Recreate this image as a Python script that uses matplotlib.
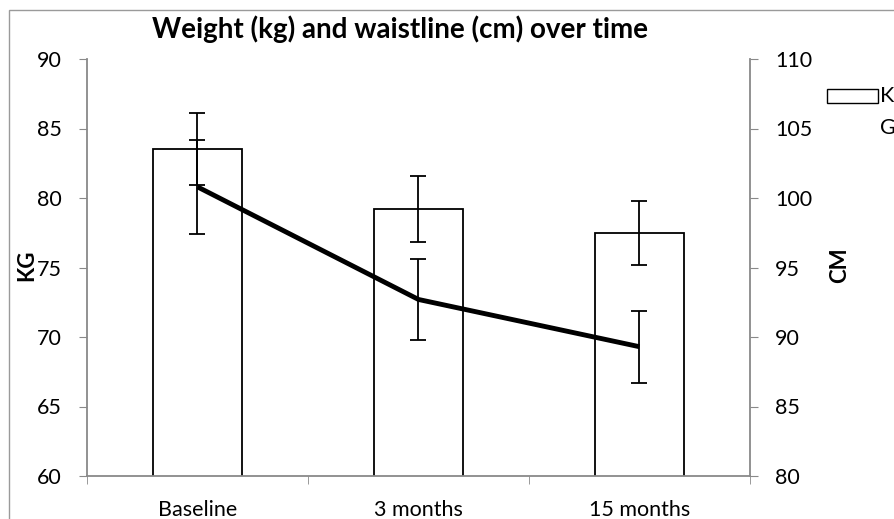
import matplotlib
matplotlib.use("Agg")
import matplotlib.pyplot as plt
from matplotlib.patches import Rectangle
import numpy as np

plt.rcParams['font.family'] = ['Lato', 'DejaVu Sans']

categories = ["Baseline", "3 months", "15 months"]
kg_values = [83.5, 79.2, 77.5]
kg_errors = [2.6, 2.4, 2.3]
cm_values = [100.8, 92.7, 89.3]
cm_errors = [3.4, 2.9, 2.6]
left_ticks = [60, 65, 70, 75, 80, 85, 90]
right_ticks = [80, 85, 90, 95, 100, 105, 110]

W, H = 895, 519
fs = 15.5
fig = plt.figure(figsize=(W / 100, H / 100), dpi=100)
ax_l, ax_r, ax_b, ax_t = 87, 750, 476, 59
ax = fig.add_axes([ax_l / W, 1 - ax_b / H, (ax_r - ax_l) / W, (ax_b - ax_t) / H])

gray = "#898989"
x = np.arange(len(categories))
ax.bar(x, kg_values, width=0.4, color="white", edgecolor="black", linewidth=1.3, zorder=2)
ax.errorbar(x, kg_values, yerr=kg_errors, fmt="none", ecolor="black", elinewidth=1.3,
            capsize=6, capthick=1.3, zorder=3)
ax.set_xlim(-0.5, 2.5)
ax.set_ylim(60, 90)
ax.set_yticks(left_ticks)
ax.set_xticks(x)
ax.set_xticklabels(categories)
ax.set_xticks([-0.5, 0.5, 1.5, 2.5], minor=True)
ax.tick_params(axis="x", which="major", length=0, pad=17, labelsize=fs)
ax.tick_params(axis="x", which="minor", length=6, color=gray, direction="out")
ax.tick_params(axis="y", length=6, color=gray, pad=12, labelsize=fs)
for s in ["top", "right"]:
    ax.spines[s].set_visible(False)
for s in ["left", "bottom"]:
    ax.spines[s].set_color(gray)
    ax.spines[s].set_linewidth(1.3)

ax2 = ax.twinx()
ax2.plot(x, cm_values, color="black", linewidth=3.5, zorder=4, solid_capstyle="butt")
ax2.errorbar(x, cm_values, yerr=cm_errors, fmt="none", ecolor="black", elinewidth=1.3,
             capsize=6, capthick=1.3, zorder=3)
ax2.set_ylim(80, 110)
ax2.set_yticks(right_ticks)
ax2.tick_params(axis="y", length=6, color=gray, pad=12, labelsize=fs)
for s in ["top", "left", "bottom"]:
    ax2.spines[s].set_visible(False)
ax2.spines["right"].set_color(gray)
ax2.spines["right"].set_linewidth(1.3)

fig.text(27 / W, 1 - 265 / H, "KG", rotation=90, fontsize=16, fontweight="bold",
         ha="center", va="center")
fig.text(840 / W, 1 - 265 / H, "CM", rotation=90, fontsize=16, fontweight="bold",
         ha="center", va="center")
fig.text(400 / W, 1 - 29 / H, "Weight (kg) and waistline (cm) over time", fontsize=20,
         fontweight="bold", ha="center", va="center")

# legend (cut off at right edge)
fig.patches.append(Rectangle((827 / W, 1 - 103 / H), 51 / W, 14 / H, transform=fig.transFigure,
                             facecolor="white", edgecolor="black", linewidth=1.0))
fig.text(880 / W, 1 - 96 / H, "K", fontsize=fs, ha="left", va="center")
fig.text(880 / W, 1 - 128 / H, "G", fontsize=fs, ha="left", va="center")

# chart border
fig.patches.append(Rectangle((9 / W, -0.1), 2, 1 - 10 / H + 0.1, transform=fig.transFigure,
                             facecolor="none", edgecolor="#9a9a9a", linewidth=1.0))

fig.savefig("out.png", dpi=100)
